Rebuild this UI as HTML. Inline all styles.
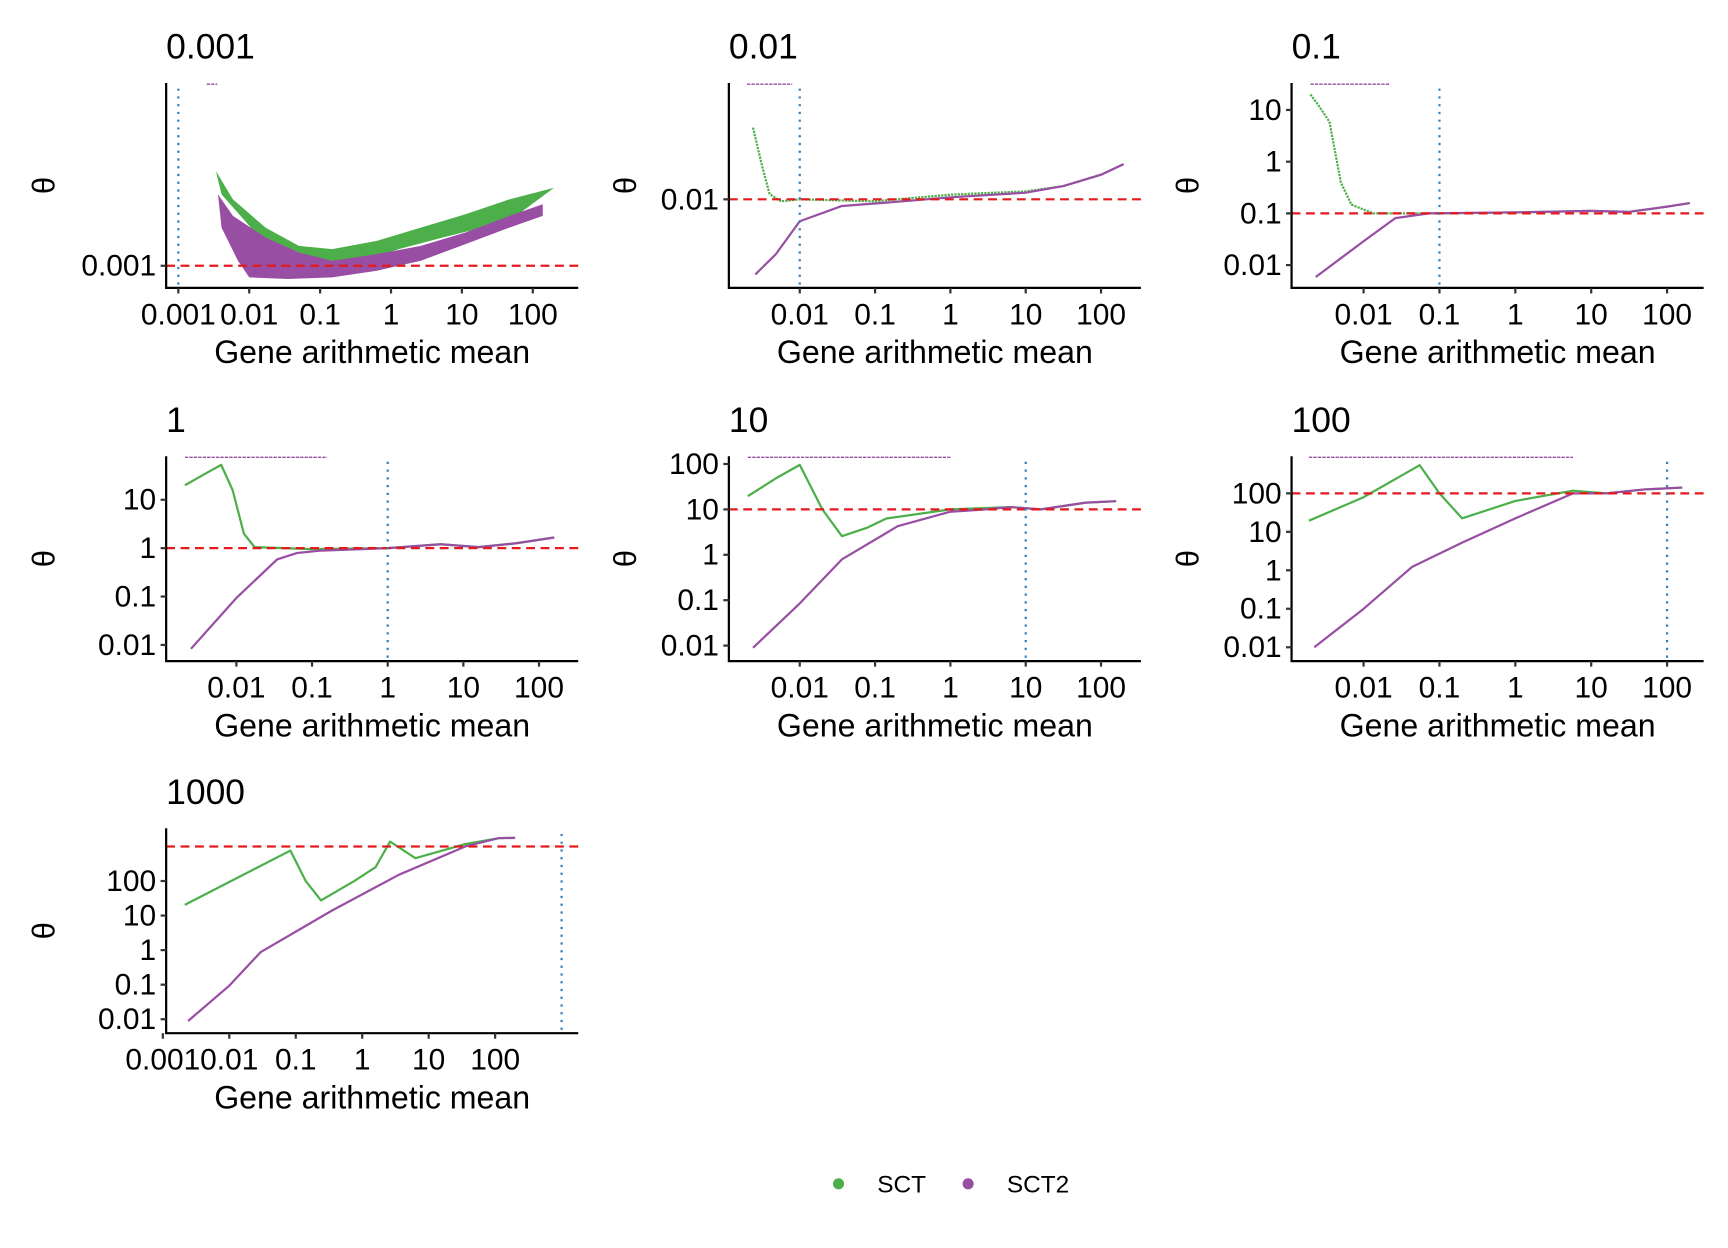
<!DOCTYPE html>
<html><head><meta charset="utf-8"><style>
html,body{margin:0;padding:0;background:#fff}
svg{display:block;font-family:"Liberation Sans",Arial,sans-serif}
</style></head><body>
<svg id="chart" width="1728" height="1248" viewBox="0 0 1560 1127" preserveAspectRatio="none" xmlns="http://www.w3.org/2000/svg">
<g id="root"></g>
<g>
<circle cx="757" cy="1069" r="5" fill="#4daf4a"/>
<text x="792" y="1077" font-size="22">SCT</text>
<circle cx="874" cy="1069" r="5" fill="#984ea3"/>
<text x="909" y="1077" font-size="22">SCT2</text>
</g>
</svg>
<script>
// Facet titles (true theta)
const facetTitles = ["0.001","0.01","0.1","1","10","100","1000"];
const trueLogTheta = [-3,-2,-1,0,1,2,3];
// x tick exponents per facet
const xTickExp = [[-3,-2,-1,0,1,2],[-2,-1,0,1,2],[-2,-1,0,1,2],[-2,-1,0,1,2],[-2,-1,0,1,2],[-2,-1,0,1,2],[-3,-2,-1,0,1,2]];
const yTickExp = [[-3],[-2],[1,0,-1,-2],[1,0,-1,-2],[2,1,0,-1,-2],[2,1,0,-1,-2],[2,1,0,-1,-2]];
const tickLabels = {"-3":"0.001","-2":"0.01","-1":"0.1","0":"1","1":"10","2":"100","3":"1000"};
// Series: log10(mean), log10(theta)
const sctLogMean = [
 null,
 [-2.62,-2.5,-2.4,-2.25,-2,-1,0,1,1.5,2,2.3],
 [-2.7,-2.6,-2.45,-2.3,-2.16,-1.87,-1,0,1,1.5,2,2.3],
 [-2.68,-2.4,-2.2,-2.05,-1.9,-1.76,-1,0,0.7,1.2,1.7,2.2],
 [-2.69,-2.3,-2,-1.7,-1.44,-1.1,-0.85,0,0.8,1.2,1.8,2.2],
 [-2.72,-2,-1.26,-1.0,-0.7,0,0.76,1.2,1.7,2.2],
 [-2.67,-1.08,-0.85,-0.62,-0.12,0.2,0.42,0.8,1.55,2.05,2.3]];
const sctLogTheta = [
 null,
 [-0.92,-1.5,-1.92,-2.03,-2,-2.03,-1.93,-1.88,-1.8,-1.63,-1.47],
 [1.3,1.1,0.77,-0.4,-0.83,-1,-1,-0.98,-0.95,-0.97,-0.87,-0.8],
 [1.3,1.55,1.72,1.2,0.3,0.02,-0.02,0,0.08,0.02,0.1,0.22],
 [1.29,1.7,1.98,1.0,0.41,0.6,0.8,1,1.05,1,1.15,1.18],
 [1.29,1.9,2.73,2.0,1.35,1.8,2.07,2.0,2.1,2.15],
 [1.31,2.88,2.0,1.44,2.0,2.4,3.14,2.66,3.07,3.24,3.25]];
const sct2LogMean = [
 null,
 [-2.59,-2.32,-2,-1.44,-0.85,0,1,1.5,2,2.3],
 [-2.63,-2,-1.58,-1.14,0,1,1.5,2,2.3],
 [-2.6,-2,-1.46,-1.2,-0.88,0,0.7,1.2,1.7,2.2],
 [-2.62,-2,-1.44,-0.7,0,0.47,0.8,1.2,1.8,2.2],
 [-2.65,-2,-1.36,-0.7,0,0.76,1.2,1.7,2.2],
 [-2.62,-2,-1.53,-0.45,0.55,1.55,2.05,2.3]];
const sct2LogTheta = [
 null,
 [-3.13,-2.83,-2.33,-2.1,-2.05,-1.97,-1.9,-1.8,-1.63,-1.47],
 [-2.23,-1.54,-1.09,-1,-0.98,-0.95,-0.97,-0.87,-0.8],
 [-2.08,-1.03,-0.23,-0.1,-0.05,0,0.08,0.02,0.1,0.22],
 [-2.05,-1.07,-0.1,0.63,0.95,1,1.05,1,1.15,1.18],
 [-2,-1,0.09,0.72,1.35,2,2.0,2.1,2.15],
 [-2.05,-1.03,-0.06,1.15,2.18,3.0,3.24,3.25]];
// Facet 0.001 clouds (envelope polygons)
const cloudSctLogMean = [-2.47,-2.23,-1.77,-1.3,-0.83,-0.2,0.42,1.05,1.67,2.3,1.67,0.73,0.11,-0.52,-1.14,-1.77,-2.39];
const cloudSctLogTheta = [-2.43,-2.6,-2.77,-2.88,-2.9,-2.85,-2.77,-2.69,-2.6,-2.53,-2.73,-2.83,-2.9,-2.99,-2.97,-2.87,-2.57];
const cloudSct2LogMean = [-2.44,-2.23,-1.77,-1.3,-0.83,-0.2,0.42,1.05,1.67,2.14,2.14,1.67,1.05,0.42,-0.2,-0.83,-1.45,-2,-2.16,-2.39];
const cloudSct2LogTheta = [-2.57,-2.7,-2.83,-2.92,-2.97,-2.93,-2.88,-2.8,-2.7,-2.63,-2.7,-2.77,-2.87,-2.97,-3.03,-3.07,-3.08,-3.07,-2.97,-2.77];
// capped values at top (log mean range)
const cappedStart = [-2.6,-2.7,-2.7,-2.68,-2.69,-2.72,null];
const cappedEnd = [-2.45,-2.1,-1.65,-0.8,0,0.76,null];

// layout
const L=[150,658,1166], R=[522,1030,1538], T=[75,412,748], B=[260,597,933];
const facetCol=[0,1,2,0,1,2,0], facetRow=[0,0,0,1,1,1,2];
const yTitleX=[40,565,1073,40,565,1073,40];
const xScale=[[353,64],[858,68],[1368,68.5],[350,68.3],[858,68],[1368,68.5],[327,60]];
const yScale=[[-3,240,150],[-2,180,60],[0,146,46.7],[0,495,43.7],[0,501,41],[0,515,34.75],[0,858,31.2]];
const NS="http://www.w3.org/2000/svg";
const root=document.getElementById('root');
function mk(tag,attrs,parent,txt){const e=document.createElementNS(NS,tag);for(const k in attrs)e.setAttribute(k,attrs[k]);if(txt!==undefined)e.textContent=txt;parent.appendChild(e);return e;}
function pts(xs,ys,fx,fy){return xs.map((v,i)=>fx(v).toFixed(1)+','+fy(ys[i]).toFixed(1)).join(' ');}

for(let f=0;f<7;f++){
 const c=facetCol[f], r=facetRow[f];
 const l=L[c], rr=R[c], t=T[r], b=B[r];
 const fx=v=>xScale[f][0]+v*xScale[f][1];
 const fy=v=>yScale[f][1]-(v-yScale[f][0])*yScale[f][2];
 const g=mk('g',{},root);
 
 
 const clip='clip'+f;
 const cp=mk('clipPath',{id:clip},g); mk('rect',{x:l,y:t-3,width:rr-l+3,height:b-t+3},cp);
 const title=mk('text',{x:l,y:t-22,'font-size':32},g,facetTitles[f]);
 
 
 const data=mk('g',{'clip-path':'url(#'+clip+')'},g);
 if(f===0){
  const p1=mk('polygon',{points:pts(cloudSctLogMean,cloudSctLogTheta,fx,fy),fill:'#4daf4a'},data);
  
  
  const p2=mk('polygon',{points:pts(cloudSct2LogMean,cloudSct2LogTheta,fx,fy),fill:'#984ea3'},data);
  
  
 } else {
  const s1=mk('polyline',{points:pts(sctLogMean[f],sctLogTheta[f],fx,fy),fill:'none',stroke:'#4daf4a','stroke-width':2,'stroke-dasharray':f<3?'2 1':'none','stroke-linejoin':'round'},data);
  
  
  const s2=mk('polyline',{points:pts(sct2LogMean[f],sct2LogTheta[f],fx,fy),fill:'none',stroke:'#984ea3','stroke-width':2,'stroke-linejoin':'round'},data);
  
  
 }
 if(cappedStart[f]!==null){
  const cl=mk('line',{x1:fx(cappedStart[f]),x2:fx(cappedEnd[f]),y1:t+1,y2:t+1,stroke:'#984ea3','stroke-width':1.2,'stroke-dasharray':'3 1'},data);
  
  
 }
 const ref=mk('line',{x1:l,x2:rr+2,y1:fy(trueLogTheta[f]),y2:fy(trueLogTheta[f]),stroke:'#e41a1c','stroke-width':2,'stroke-dasharray':'8 5'},g);
 
 
 const vl=mk('line',{x1:fx(trueLogTheta[f]),x2:fx(trueLogTheta[f]),y1:t+5,y2:b,stroke:'#377eb8','stroke-width':2,'stroke-dasharray':'2 5'},g);
 
 
 const ax=mk('path',{d:`M${l},${t} V${b} H${rr}`,fill:'none',stroke:'#000','stroke-width':2},g);
 
 
 xTickExp[f].forEach(e=>{
  const x=fx(e);
  mk('line',{x1:x,x2:x,y1:b,y2:b+5,stroke:'#333','stroke-width':2},g);
  const tl=mk('text',{x:x,y:b+33,'font-size':27,'text-anchor':'middle','textLength':0},g,tickLabels[e]);
  tl.removeAttribute('textLength');
  
  
 });
 yTickExp[f].forEach(e=>{
  const y=fy(e);
  mk('line',{x1:l-5,x2:l,y1:y,y2:y,stroke:'#333','stroke-width':2},g);
  const tl=mk('text',{x:l-9,y:y+9,'font-size':27,'text-anchor':'end'},g,tickLabels[e]);
  
  
 });
 const xt=mk('text',{x:(l+rr)/2,y:b+68,'font-size':29,'text-anchor':'middle'},g,'Gene arithmetic mean');
 
 
 const ym=(t+b)/2, yx=yTitleX[f];
 const yt=mk('text',{x:yx,y:ym,'font-size':28,'text-anchor':'middle',transform:`rotate(-90 ${yx} ${ym}) translate(0 9)`},g,'θ');
 
 
}
</script>
</body></html>
